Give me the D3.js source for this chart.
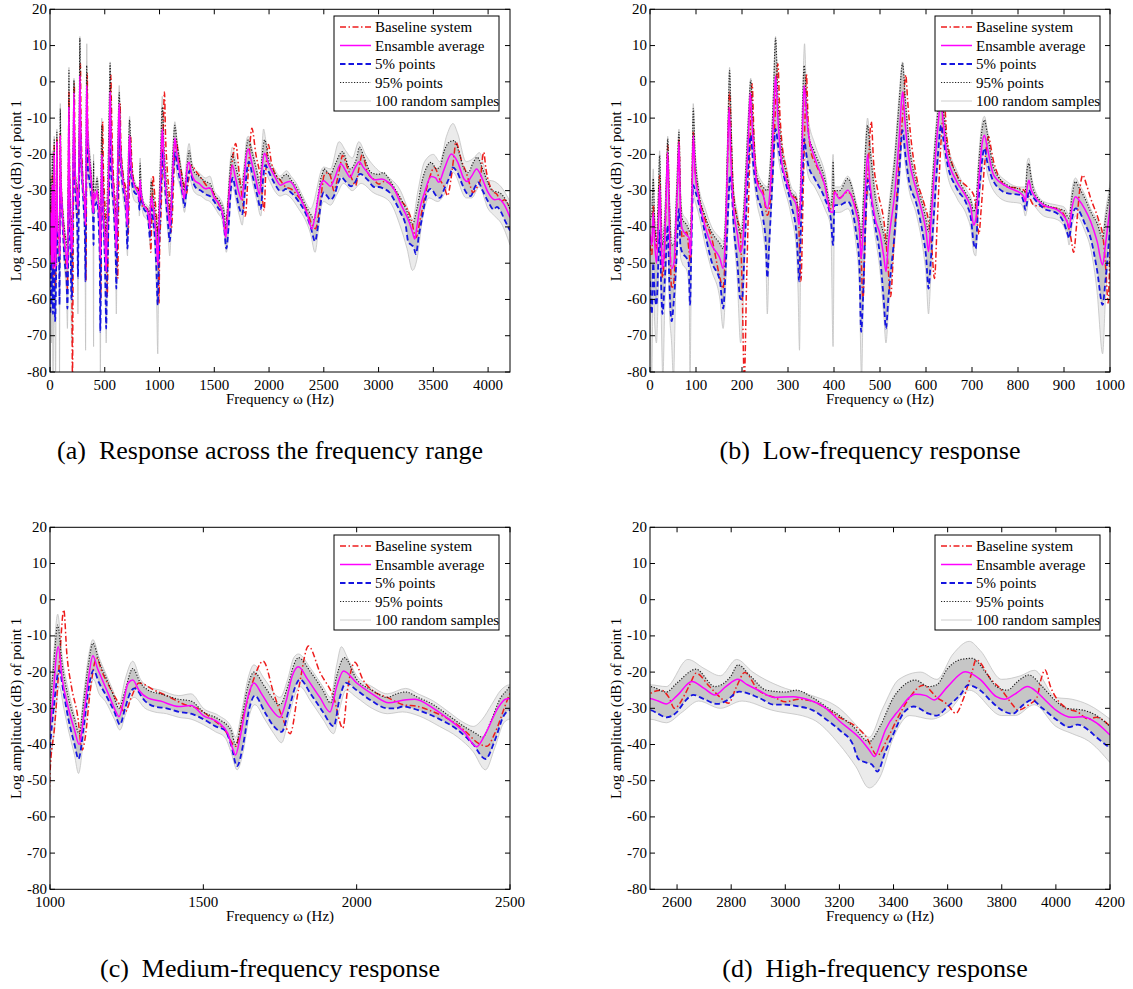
<!DOCTYPE html>
<html><head><meta charset="utf-8">
<script src="https://cdn.jsdelivr.net/npm/d3@7"></script>
<style>
body{margin:0;background:#fff}
svg{display:block}
text{font-family:"Liberation Serif","Times New Roman",Times,serif;fill:#000}
</style>
</head><body>
<svg id="chart" width="1133" height="989" font-family="Liberation Serif, Times New Roman, Times, serif"></svg>
<script>
// ---------------- DATA (frequency Hz, amplitude dB) ----------------
const legendLabels = ["Baseline system","Ensamble average","5% points","95% points","100 random samples"];
const captions = ["(a)  Response across the frequency range","(b)  Low-frequency response","(c)  Medium-frequency response","(d)  High-frequency response"];
const yTicks = [20,10,0,-10,-20,-30,-40,-50,-60,-70,-80];
const xTicksA = [0,500,1000,1500,2000,2500,3000,3500,4000];
const xTicksB = [0,100,200,300,400,500,600,700,800,900,1000];
const xTicksC = [1000,1500,2000,2500];
const xTicksD = [2600,2800,3000,3200,3400,3600,3800,4000,4200];

// Ensemble average
const meanLow = [[0,-42],[4,-45],[7,-36],[10,-44],[14,-50],[18,-40],[21,-28.5],[24,-42],[27,-51.5],[31,-46],[35,-32],[38.5,-19.4],[42,-40],[47,-51.5],[52,-50],[56,-40],[60,-28],[63,-16.6],[66,-35],[70,-40.5],[80,-42.3],[85,-43],[88,-48],[91,-35],[94,-14.8],[98,-25],[105,-31.3],[120,-40],[134,-45],[152,-48.7],[159,-51.5],[163,-45],[168,-25],[172,-7],[176,-22],[181,-34],[190,-42],[196,-47],[201,-45],[208,-30],[214,-15],[218,-3],[222,-12],[232,-27.6],[246,-31.3],[255,-35],[262,-28],[268,-12],[273,1.7],[278,-10],[286,-22],[296,-27],[307,-31.3],[318,-34],[324,-39.5],[328,-30],[332,-12],[335,-1],[340,-8],[344,-13.9],[358,-21],[380,-28.5],[393,-35.9],[398,-36],[401,-30.4],[412,-32.2],[430,-29.9],[448,-35.9],[455,-40],[459,-48.7],[463,-42],[468,-30],[473,-20],[478,-28],[490,-38],[500,-42],[508,-48],[513,-52.3],[518,-45],[533,-29.4],[542,-15],[549,-2.7],[555,-12],[562,-20.2],[580,-30.3],[594.5,-37.6],[600,-41],[605.5,-46.8],[610,-40],[618,-25],[626,-12],[632,-6],[638,-12],[645.5,-20.2],[667,-27.5],[689,-32.1],[698,-35],[703.6,-39.5],[708,-38],[715,-27],[721,-18],[727,-14.7],[733,-18],[747,-25.7],[776,-28.9],[805,-30.7],[812,-31.5],[816,-33],[820,-29],[823.6,-27.1],[828,-29.5],[834.5,-31.2],[856,-34],[885.5,-35.3],[900,-37],[908,-39],[911,-40.4],[917,-35],[925,-31.7],[932,-32.5],[945,-35],[958,-38.5],[972,-44],[984,-50.5],[990,-45],[1000,-35]];
const meanMid = [[1010,-27],[1020,-16],[1027,-13],[1040,-22],[1060,-30],[1080,-36],[1095,-40],[1110,-32],[1125,-22],[1140,-15.5],[1155,-19],[1170,-22],[1190,-26],[1210,-30],[1225,-32.3],[1240,-28],[1255,-23],[1270,-22.2],[1290,-25],[1320,-27.2],[1360,-28],[1420,-29.5],[1460,-29.2],[1500,-32],[1550,-34],[1580,-37],[1595,-41],[1605,-42.9],[1620,-38],[1645,-27],[1665,-23],[1690,-26],[1720,-30],[1750,-32.5],[1770,-28],[1790,-21],[1810,-18.5],[1840,-22],[1880,-27],[1913,-31],[1935,-24],[1957,-19.7],[2000,-23],[2050,-26],[2105,-28.5],[2150,-27.8],[2190,-27.5],[2250,-30],[2300,-33],[2350,-36.5],[2391,-40.6],[2420,-37],[2460,-30],[2485,-27.5],[2500,-27.3]];
const meanHigh = [[2530,-28],[2560,-28.8],[2600,-26.5],[2655,-22.6],[2700,-24.5],[2740,-26.3],[2780,-24],[2825,-22],[2860,-23.5],[2900,-25],[2960,-27],[3030,-26.8],[3080,-27.5],[3150,-30],[3200,-33.5],[3280,-38.7],[3310,-41.5],[3330,-43.3],[3350,-40],[3370,-36],[3420,-30.5],[3480,-26.1],[3520,-26.5],[3550,-27.7],[3600,-24],[3665,-19.9],[3720,-22],[3780,-26.8],[3810,-27.5],[3850,-26],[3895,-24],[3930,-25.5],[3960,-27.7],[4000,-30.5],[4060,-32.5],[4100,-32.3],[4150,-34],[4200,-37.4]];

// Baseline system
const baseLow = [[0,-45],[4,-48],[7,-34],[10,-40],[14,-46],[18,-38],[21,-25.8],[24,-40],[27,-54],[32,-45],[36,-28],[38.5,-17.5],[42,-35],[47,-57],[52,-55],[57,-38],[61,-24],[63,-15.7],[66,-32],[70,-43],[80,-41.4],[85,-47],[88,-50],[91,-32],[94,-13.9],[98,-24],[105,-30.4],[120,-38],[134,-43],[152,-54],[159,-57],[164,-45],[169,-20],[173,-2.8],[177,-18],[181,-30],[190,-38],[196,-41],[200,-55],[205,-82],[210,-55],[216,-25],[222,-0.5],[226,-15],[232,-26.7],[246,-30.4],[255,-36.8],[262,-32],[270,-15],[278,5],[282,-8],[286,-15.7],[296,-24],[307,-31.3],[318,-32.2],[323,-38],[328,-55],[333,-30],[337,-10],[340,2.2],[344,-12],[350,-19.4],[358,-22],[380,-28.5],[393,-35],[397,-35],[401,-30],[412,-32],[430,-30.4],[448,-35],[458,-45],[463,-60],[468,-42],[474,-25],[481,-11],[486,-22],[495,-30],[510,-40],[517,-50],[523,-59.2],[530,-45],[540,-25],[550,-8],[556,1.9],[560,-5],[566,-14],[580,-26.6],[594.5,-33],[605,-38],[612,-45],[618.5,-54.2],[624,-40],[632,-18],[640,-6],[645.5,-15.6],[667,-25.7],[690,-29],[703.6,-31.2],[710,-36],[715,-42],[720,-35],[728,-22],[736,-15.1],[741,-18],[747,-22],[776,-28.9],[805,-29.4],[816,-30.3],[824,-31.7],[834.5,-34],[856,-34.4],[885.5,-34.9],[905,-38],[915,-43],[921,-47],[927,-40],[934,-30],[941,-25.7],[948,-28],[958,-32.1],[975,-38],[985,-43],[991,-52],[996,-61],[1000,-48]];
const baseMid = [[1015,-35],[1030,-18],[1045,-2.8],[1055,-15],[1070,-24],[1090,-32],[1105,-41.5],[1115,-38],[1130,-26],[1152,-16.2],[1170,-20],[1200,-25],[1220,-28],[1245,-31],[1265,-27],[1290,-23],[1340,-25],[1380,-26.5],[1440,-29],[1480,-30],[1530,-33],[1570,-36],[1605,-40.5],[1625,-34],[1660,-23],[1695,-17],[1730,-26],[1760,-33],[1783,-37],[1810,-25],[1843,-12.8],[1880,-20],[1925,-27],[1955,-35.5],[1970,-25],[1994,-17.3],[2020,-22],[2050,-25],[2100,-27],[2152,-29],[2200,-29.5],[2250,-31],[2300,-33],[2350,-36],[2396,-39.6],[2425,-40.5],[2450,-37],[2490,-28],[2500,-26]];
const baseHigh = [[2540,-25],[2570,-27],[2590,-30],[2630,-26],[2650,-23],[2670,-20.3],[2720,-24],[2760,-27],[2790,-28.6],[2820,-24],[2850,-20.1],[2900,-25],[2960,-27],[3000,-28.2],[3050,-27.5],[3100,-28],[3150,-30],[3200,-32.5],[3260,-35],[3300,-38],[3340,-43],[3380,-38],[3420,-32],[3460,-27],[3510,-23.6],[3560,-27],[3600,-29],[3630,-31.4],[3660,-27],[3690,-20],[3705,-16.6],[3760,-22],[3800,-25],[3840,-29],[3860,-30.5],[3900,-29],[3930,-27],[3945,-22],[3960,-19.4],[3980,-24],[4000,-27],[4040,-30],[4080,-31],[4120,-33],[4150,-32.5],[4200,-35]];

// 5% points
const p5Low = [[0,-55],[4,-64],[7,-50],[10,-58],[14,-61.6],[18,-50],[21,-41],[24,-55],[27,-64],[32,-55],[36,-45],[38.5,-39.5],[42,-55],[47,-66],[52,-60],[58,-48],[63,-35],[66,-45],[70,-47],[80,-48.7],[84,-50],[87,-61.5],[90,-45],[94,-28.5],[98,-30],[105,-33],[120,-42],[134,-49.6],[152,-55],[159,-62.5],[165,-50],[170,-35],[174,-25.8],[178,-30],[181,-37.7],[190,-50],[196,-59.7],[200,-60],[206,-45],[212,-28],[219,-14.8],[224,-22],[232,-30.4],[246,-37.7],[252,-45],[255,-54],[259,-45],[266,-28],[273,-13],[279,-18],[286,-23],[307,-34],[318,-41.4],[322,-50],[324,-55],[328,-40],[332,-25],[335,-15.7],[340,-20],[344,-23],[358,-26.7],[380,-32.2],[393,-37.7],[398,-45],[401,-34],[412,-34],[430,-33],[448,-41.4],[455,-50],[459,-68.9],[463,-60],[468,-40],[473,-27],[478,-30],[490,-40],[500,-48],[508,-60],[513,-68],[518,-60],[533,-40],[542,-25],[549,-13.3],[555,-20],[562,-26.6],[580,-34],[594.5,-43.1],[600,-48],[605.5,-57],[610,-50],[618,-35],[626,-20],[633,-12],[638,-16],[645.5,-22],[667,-29.4],[689,-34],[698,-38],[703.6,-44.5],[708,-46],[713,-35],[720,-24],[727,-18.3],[733,-22],[747,-27.5],[776,-30.7],[805,-31.2],[812,-33],[816,-35.3],[820,-33],[823.6,-29.8],[828,-31],[834.5,-32.1],[856,-34.9],[885.5,-36.3],[900,-39],[908,-42],[911,-43.1],[917,-38],[925,-34.9],[932,-35.5],[945,-39],[958,-43.1],[972,-52],[984,-61.5],[990,-55],[1000,-41]];
const p5Mid = [[1012,-30],[1030,-19.5],[1045,-26],[1060,-33],[1080,-40],[1093,-44],[1110,-35],[1125,-25],[1142,-19.5],[1160,-23],[1180,-26],[1210,-31],[1228,-34.5],[1245,-30],[1260,-26],[1275,-24.5],[1310,-28],[1340,-29.5],[1380,-30],[1420,-31],[1460,-31.5],[1500,-33],[1540,-35],[1570,-36],[1590,-40],[1610,-46],[1630,-40],[1650,-30],[1668,-26.5],[1700,-31],[1730,-35],[1755,-36.5],[1780,-30],[1800,-24],[1815,-22],[1850,-26],[1890,-31],[1925,-35],[1945,-27],[1965,-23],[2000,-25],[2050,-28],[2100,-30],[2130,-30],[2150,-29.5],[2200,-30.5],[2270,-33],[2330,-36],[2380,-40],[2420,-44],[2450,-39],[2480,-32],[2500,-30.5]];
const p5High = [[2530,-31.5],[2560,-32.5],[2600,-31],[2630,-28],[2660,-26.3],[2700,-27.5],[2750,-28.8],[2780,-28],[2830,-25.4],[2900,-27],[2960,-29],[3000,-29],[3050,-29.5],[3100,-30.5],[3150,-33],[3200,-36],[3250,-40],[3270,-44],[3300,-45],[3320,-45.5],[3340,-47.5],[3370,-42],[3400,-37],[3440,-31],[3475,-29.5],[3530,-31.5],[3560,-32],[3600,-29.5],[3650,-26],[3675,-23.6],[3720,-25],[3760,-28],[3800,-30.5],[3840,-31.5],[3880,-29],[3910,-27.7],[3950,-30],[4000,-33],[4050,-35.2],[4080,-34.5],[4120,-36],[4150,-38],[4200,-41]];

// 95% points
const p95Low = [[0,-38],[4,-36],[7,-26.7],[10,-38],[14,-44],[18,-32],[21,-20.3],[24,-35],[27,-45],[32,-38],[36,-25],[38.5,-15.7],[42,-32],[47,-45],[52,-45],[58,-30],[63,-13.9],[66,-30],[70,-37.7],[80,-39.5],[85,-41],[88,-42],[91,-28],[94,-7.4],[98,-20],[105,-29.4],[120,-37],[134,-41.4],[152,-44.6],[159,-46],[164,-38],[169,-15],[173,3.1],[177,-15],[181,-30],[190,-38],[196,-42],[201,-40],[208,-25],[214,-10],[219,0.4],[224,-12],[232,-25.8],[246,-29],[255,-30],[262,-22],[268,-5],[273,12],[278,-5],[286,-18.4],[296,-25],[307,-30.4],[318,-32],[324,-37.7],[328,-25],[332,-5],[335,4.5],[340,-5],[344,-14],[358,-19.4],[380,-26.7],[393,-34],[397,-30],[398,-22],[400,-30],[412,-30],[430,-26.7],[448,-34],[455,-38],[459,-43],[463,-35],[468,-20],[473,-12],[478,-18],[490,-32],[500,-38],[508,-42],[513,-45],[518,-38],[533,-20],[542,-5],[549,5.1],[555,-5],[562,-15.6],[580,-28.4],[594.5,-34.9],[600,-38],[605.5,-41.3],[610,-35],[618,-20],[626,-8],[632,-3],[638,-8],[645.5,-17.4],[667,-25.7],[689,-31.2],[698,-33],[703.6,-35.8],[708,-34],[715,-22],[721,-14],[727,-10.5],[733,-14],[747,-23.8],[776,-28.4],[805,-29.8],[812,-30.5],[816,-30],[820,-24],[823.6,-22.5],[828,-26],[834.5,-30],[856,-33.5],[885.5,-34.9],[900,-35.5],[911,-37.6],[917,-32],[925,-27.5],[932,-29],[945,-32],[958,-35.8],[972,-39],[984,-43.1],[990,-38],[1000,-30]];
const p95Mid = [[1012,-18],[1025,-7],[1040,-18],[1060,-27],[1080,-33],[1095,-37],[1110,-28],[1125,-18],[1140,-12],[1160,-17],[1180,-21],[1205,-26],[1225,-30],[1245,-25],[1270,-19],[1295,-23],[1320,-25],[1360,-26],[1420,-27.5],[1460,-28],[1500,-31],[1550,-33],[1590,-36],[1605,-40],[1625,-33],[1645,-24],[1665,-20],[1700,-24],[1750,-29],[1775,-24],[1795,-18],[1810,-16],[1850,-20],[1890,-25],[1915,-28.5],[1935,-21],[1960,-16],[2000,-22],[2050,-25],[2100,-27],[2130,-26],[2160,-25.5],[2200,-27],[2250,-29],[2300,-32],[2350,-35],[2390,-37],[2410,-38],[2440,-33],[2470,-27],[2490,-25],[2500,-24]];
const p95High = [[2560,-25.5],[2600,-23],[2670,-19.2],[2740,-24],[2800,-21],[2825,-18],[2870,-21],[2930,-25],[3000,-25.5],[3040,-25],[3100,-27],[3150,-29.5],[3200,-32],[3250,-35],[3310,-39.2],[3350,-35],[3400,-27],[3450,-23],[3480,-22.2],[3530,-24],[3560,-23.5],[3600,-19],[3650,-16.5],[3690,-16.2],[3740,-20],[3780,-24],[3820,-25],[3860,-22.5],[3900,-20.8],[3950,-24],[4000,-28],[4040,-30],[4100,-30.5],[4150,-32],[4200,-35]];

// Random samples: upper and lower extremes of the 100 sample curves
const sMaxLow = [[0,-30],[4,-34],[7,-24],[10,-36],[14,-42],[18,-30],[21,-19],[24,-33],[27,-43],[32,-36],[36,-24],[38.5,-15],[42,-30],[47,-43],[52,-43],[58,-28],[63,-13],[66,-28],[70,-36],[80,-38],[88,-40],[91,-26],[94,-6],[98,-18],[105,-28],[120,-35],[134,-40],[152,-43],[159,-44],[164,-36],[169,-13],[173,4],[177,-13],[181,-28],[190,-36],[196,-40],[201,-38],[208,-23],[214,-8],[219,1],[224,-10],[232,-24],[246,-28],[255,-29],[262,-20],[268,-3],[273,12.5],[278,-3],[286,-16],[296,-23],[307,-29],[318,-31],[324,-36],[328,-23],[332,-3],[336,10.5],[340,-3],[344,-10],[358,-17],[380,-25],[393,-33],[398,-20],[401,-29],[412,-29],[430,-26],[448,-33],[455,-37],[459,-42],[463,-33],[468,-18],[473,-10],[478,-16],[490,-30],[500,-36],[508,-40],[513,-43],[518,-36],[533,-18],[542,-3],[549,5.5],[555,-3],[562,-14],[580,-27],[594.5,-33],[600,-36],[605.5,-39],[610,-33],[618,-18],[626,-6],[632,-1],[638,-6],[645.5,-16],[667,-24.5],[689,-30],[698,-32],[703.6,-34.5],[708,-33],[715,-20],[721,-12],[727,-9.5],[733,-13],[747,-23],[776,-27.5],[805,-29],[816,-29],[820,-22],[823.6,-21],[828,-25],[834.5,-29],[856,-33],[885.5,-34],[900,-34.5],[911,-36.5],[917,-30],[925,-26.5],[932,-28],[945,-31],[958,-35],[972,-38],[984,-42],[990,-36],[1000,-28]];
const sMaxMid = [[1012,-15],[1025,-4],[1040,-16],[1060,-25],[1080,-32],[1095,-36],[1110,-26],[1125,-16],[1140,-11],[1160,-16],[1180,-20],[1205,-25],[1225,-29],[1245,-22],[1270,-17],[1295,-22],[1320,-24],[1360,-25],[1420,-26.5],[1460,-26],[1500,-30],[1550,-32],[1590,-35],[1605,-38],[1625,-31],[1645,-22],[1665,-18],[1700,-22],[1750,-27],[1775,-22],[1795,-16],[1810,-15],[1850,-19],[1890,-24],[1915,-27],[1935,-18],[1950,-13],[1970,-16],[2000,-21],[2050,-24],[2100,-26],[2160,-24.5],[2200,-26],[2250,-28],[2300,-31],[2350,-34],[2380,-35],[2410,-33],[2440,-29],[2470,-25],[2500,-23.5]];
const sMaxHigh = [[2560,-24],[2640,-16.5],[2700,-19],[2760,-21],[2820,-16.5],[2880,-20],[3000,-24.5],[3100,-26.5],[3200,-30],[3280,-36],[3310,-38],[3360,-30],[3420,-22],[3500,-20],[3560,-22],[3620,-15],[3680,-11.5],[3720,-14],[3800,-22],[3870,-21],[3920,-19.5],[4000,-27],[4060,-27.5],[4120,-29],[4200,-33]];
const sMinLow = [[0,-62],[4,-80],[7,-55],[10,-66],[14,-72],[18,-58],[21,-45],[24,-62],[28,-82],[32,-62],[36,-50],[38.5,-42],[42,-62],[47,-72],[51,-82],[56,-56],[63,-38],[66,-48],[70,-50],[80,-52],[85,-58],[87,-82],[90,-50],[94,-31],[98,-33],[105,-36],[120,-45],[134,-52],[152,-60],[159,-68],[165,-55],[170,-38],[174,-28],[178,-33],[181,-40],[190,-55],[197,-72],[201,-66],[206,-48],[212,-30],[219,-17],[224,-25],[232,-33],[246,-42],[252,-50],[255,-64],[259,-48],[266,-30],[273,-16],[279,-21],[286,-26],[307,-37],[318,-46],[322,-58],[325,-74],[328,-44],[332,-28],[335,-18],[340,-23],[344,-26],[358,-29],[380,-35],[393,-40],[398,-73],[401,-36],[412,-36],[430,-35],[448,-45],[455,-56],[460,-82],[463,-64],[468,-43],[473,-30],[478,-33],[490,-43],[500,-52],[508,-64],[513,-72],[518,-64],[533,-43],[542,-28],[549,-16],[555,-23],[562,-29],[580,-37],[594.5,-47],[600,-53],[605.5,-64],[610,-55],[618,-38],[626,-23],[633,-15],[638,-19],[645.5,-25],[667,-32],[689,-37],[698,-41],[703.6,-47],[708,-48],[713,-38],[720,-27],[727,-21],[733,-25],[747,-30],[776,-33],[805,-33.5],[812,-35],[816,-37],[820,-35],[823.6,-32],[828,-33],[834.5,-34],[856,-37],[885.5,-38],[900,-40],[908,-43],[911,-45],[917,-40],[925,-37],[932,-37.5],[945,-41],[958,-46],[972,-58],[984,-75],[990,-60],[1000,-46]];
const sMinMid = [[1012,-38],[1030,-24],[1045,-30],[1060,-36],[1080,-43],[1093,-48],[1110,-38],[1125,-28],[1142,-22],[1160,-26],[1180,-28],[1210,-33],[1228,-36],[1245,-32],[1260,-28],[1275,-27],[1310,-30],[1340,-31],[1380,-31.5],[1420,-32.5],[1460,-33],[1500,-34.5],[1540,-36.5],[1570,-38],[1590,-42],[1610,-47],[1630,-42],[1650,-32],[1668,-29],[1700,-33],[1730,-37],[1755,-39.5],[1780,-32],[1800,-26],[1815,-24],[1850,-28],[1890,-33],[1925,-37],[1945,-30],[1965,-25],[2000,-27],[2050,-30],[2100,-31.5],[2150,-31],[2200,-32],[2270,-35],[2330,-38],[2380,-42],[2420,-47],[2450,-41],[2480,-34],[2500,-33]];
const sMinHigh = [[2560,-34],[2620,-31],[2680,-28],[2760,-30],[2840,-28],[2950,-30.5],[3100,-33],[3200,-40],[3260,-46],[3310,-52],[3350,-49],[3400,-38],[3460,-32],[3540,-33],[3600,-31],[3680,-25],[3800,-32],[3850,-32],[3920,-29],[4000,-35],[4060,-37],[4120,-39],[4200,-45]];

// ---------------- assemble ----------------
const baseline = baseLow.concat(baseMid, baseHigh);
const ensembleMean = meanLow.concat(meanMid, meanHigh);
const pct5 = p5Low.concat(p5Mid, p5High);
const pct95 = p95Low.concat(p95Mid, p95High);
const sampleMax = sMaxLow.concat(sMaxMid, sMaxHigh);
const sampleMin = sMinLow.concat(sMinMid, sMinHigh);

const FONT = "Liberation Serif, Times New Roman, Times, serif";

const panels = [
  {x0:50, x1:510, y0:9.3, y1:372, dom:[0,4200], ticks:xTicksA, legX:334, legY:16, cap:captions[0], capX:270, capY:459},
  {x0:650, x1:1110, y0:9.3, y1:372, dom:[0,1000], ticks:xTicksB, legX:935, legY:16, cap:captions[1], capX:870, capY:459},
  {x0:50, x1:510, y0:527.3, y1:889.3, dom:[1000,2500], ticks:xTicksC, legX:334, legY:535, cap:captions[2], capX:270, capY:977},
  {x0:650, x1:1110, y0:527.3, y1:889.3, dom:[2500,4200], ticks:xTicksD, legX:935, legY:535, cap:captions[3], capX:875, capY:977}
];

const styles = {
  samples:{stroke:"#c2c2c2", width:0.8, dash:null},
  base:{stroke:"#ee1c1c", width:1.5, dash:"6,2.5,1.5,2.5"},
  mean:{stroke:"#ff00ff", width:1.5, dash:null},
  p5:{stroke:"#1515e0", width:1.8, dash:"5.5,3"},
  p95:{stroke:"#222222", width:1.2, dash:"1.2,1.6"}
};

const svg = d3.select("#chart");

function clip(arr, dom){
  let i0 = arr.findIndex(p => p[0] >= dom[0]);
  let i1 = -1;
  for (let i = arr.length-1; i >= 0; i--) if (arr[i][0] <= dom[1]) { i1 = i; break; }
  return arr.slice(Math.max(0, i0-1), Math.min(arr.length, i1+2));
}

function bandPath(upper, lower, x, y){
  const ctx = d3.path();
  d3.line().x(d=>x(d[0])).y(d=>y(d[1])).curve(d3.curveMonotoneX).context(ctx)(upper);
  const neg = {
    moveTo(a,b){ctx.lineTo(-a,b);},
    lineTo(a,b){ctx.lineTo(-a,b);},
    bezierCurveTo(a,b,c,d,e,f){ctx.bezierCurveTo(-a,b,-c,d,-e,f);},
    closePath(){}
  };
  d3.line().x(d=>-x(d[0])).y(d=>y(d[1])).curve(d3.curveMonotoneX).context(neg)(lower.slice().reverse());
  ctx.closePath();
  return ctx.toString();
}

function txt(sel, size){
  return sel.append("text").attr("font-family", FONT).attr("font-size", size);
}

panels.forEach((p, idx) => {
  const x = d3.scaleLinear().domain(p.dom).range([p.x0, p.x1]);
  const y = d3.scaleLinear().domain([-80, 20]).range([p.y1, p.y0]);
  const g = svg.append("g");
  const cid = "clip" + idx;
  svg.append("clipPath").attr("id", cid).append("rect")
    .attr("x", p.x0).attr("y", p.y0).attr("width", p.x1-p.x0).attr("height", p.y1-p.y0);
  const plot = g.append("g").attr("clip-path", `url(#${cid})`);
  const line = d3.line().x(d=>x(d[0])).y(d=>y(d[1])).curve(d3.curveMonotoneX);

  // spread of the random samples
  plot.append("path").attr("d", bandPath(clip(sampleMax,p.dom), clip(sampleMin,p.dom), x, y))
    .attr("fill", "#ebebeb").attr("stroke", "none");
  plot.append("path").attr("d", bandPath(clip(pct95,p.dom), clip(pct5,p.dom), x, y))
    .attr("fill", "#c6c6c6").attr("stroke", "none");
  [sampleMax, sampleMin].forEach(s => {
    plot.append("path").attr("d", line(clip(s,p.dom))).attr("fill","none")
      .attr("stroke", styles.samples.stroke).attr("stroke-width", styles.samples.width);
  });
  const draw = (data, st) => plot.append("path").attr("d", line(clip(data,p.dom)))
    .attr("fill","none").attr("stroke", st.stroke).attr("stroke-width", st.width)
    .attr("stroke-dasharray", st.dash).attr("stroke-linejoin","round");
  draw(baseline, styles.base);
  draw(pct95, styles.p95);
  draw(pct5, styles.p5);
  draw(ensembleMean, styles.mean);

  g.append("rect").attr("x", p.x0).attr("y", p.y0).attr("width", p.x1-p.x0).attr("height", p.y1-p.y0)
    .attr("fill","none").attr("stroke","#000").attr("stroke-width",1);
  const tl = 5;
  yTicks.forEach(t => {
    const yy = y(t);
    g.append("line").attr("x1",p.x0).attr("x2",p.x0+tl).attr("y1",yy).attr("y2",yy).attr("stroke","#000");
    g.append("line").attr("x1",p.x1).attr("x2",p.x1-tl).attr("y1",yy).attr("y2",yy).attr("stroke","#000");
    txt(g, 15).attr("x", p.x0-3).attr("y", yy+4.5).attr("text-anchor","end").text(t);
  });
  p.ticks.forEach(t => {
    const xx = x(t);
    g.append("line").attr("x1",xx).attr("x2",xx).attr("y1",p.y1).attr("y2",p.y1-tl).attr("stroke","#000");
    g.append("line").attr("x1",xx).attr("x2",xx).attr("y1",p.y0).attr("y2",p.y0+tl).attr("stroke","#000");
    txt(g, 15).attr("x", xx).attr("y", p.y1+18).attr("text-anchor","middle").text(t);
  });
  txt(g, 15).attr("x",(p.x0+p.x1)/2).attr("y",p.y1+32).attr("text-anchor","middle").text("Frequency ω (Hz)");
  txt(g, 15).attr("transform",`translate(${p.x0-29},${(p.y0+p.y1)/2}) rotate(-90)`)
    .attr("text-anchor","middle").text("Log amplitude (dB) of point 1");

  const lg = g.append("g").attr("transform",`translate(${p.legX},${p.legY})`);
  lg.append("rect").attr("x",0).attr("y",0).attr("width",165).attr("height",95)
    .attr("fill","#fff").attr("stroke","#000").attr("stroke-width",1);
  const lst = [styles.base, styles.mean, styles.p5, styles.p95, styles.samples];
  legendLabels.forEach((lab, i) => {
    const ly = 11 + i*18.5;
    lg.append("line").attr("x1",6).attr("x2",37).attr("y1",ly).attr("y2",ly)
      .attr("stroke", lst[i].stroke).attr("stroke-width", lst[i].width).attr("stroke-dasharray", lst[i].dash);
    txt(lg, 15).attr("x",41).attr("y",ly+5).text(lab);
  });

  txt(svg, 26).attr("x",p.capX).attr("y",p.capY).attr("text-anchor","middle")
    .style("white-space","pre").text(p.cap);
});
</script>
</body></html>
